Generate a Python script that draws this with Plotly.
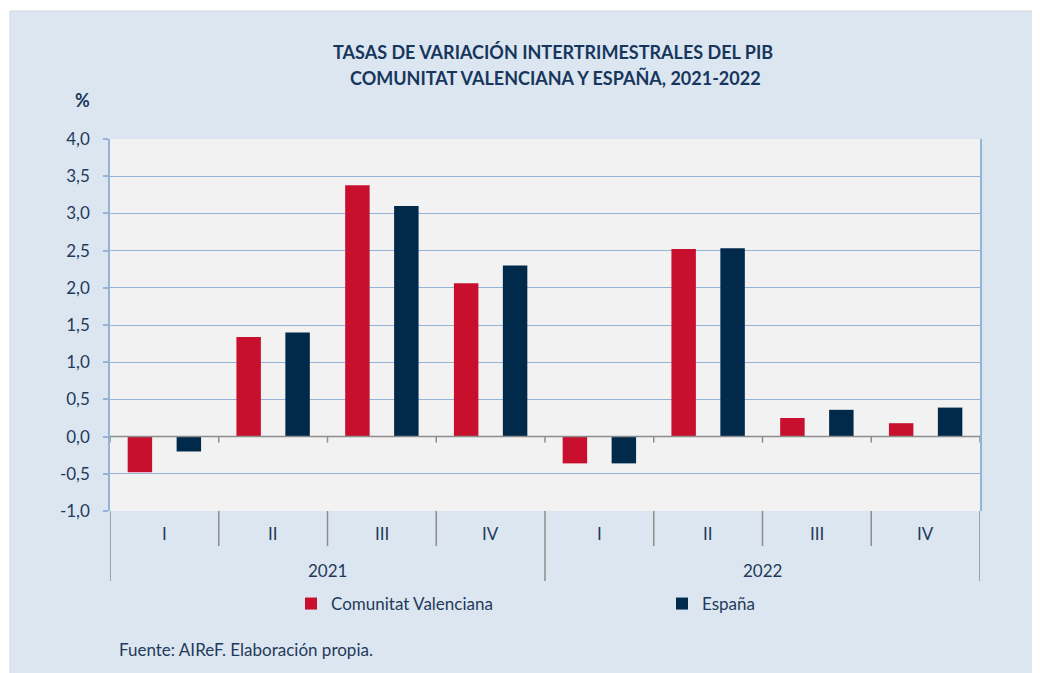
import plotly.graph_objects as go

# ---- data ----
quarters = ["I", "II", "III", "IV", "I", "II", "III", "IV"]
years = ["2021", "2022"]
quarters_per_year = 4
cv_values = [-0.48, 1.34, 3.38, 2.06, -0.36, 2.52, 0.25, 0.18]
es_values = [-0.20, 1.40, 3.10, 2.30, -0.36, 2.53, 0.36, 0.39]
series_names = ["Comunitat Valenciana", "España"]
y_ticks = [-1.0, -0.5, 0.0, 0.5, 1.0, 1.5, 2.0, 2.5, 3.0, 3.5, 4.0]
y_tick_labels = ["-1,0", "-0,5", "0,0", "0,5", "1,0", "1,5", "2,0", "2,5", "3,0", "3,5", "4,0"]

# ---- style ----
OFF = 8  # page body margin
W, H = 1040, 673
L, T = 110 - OFF, 139 - OFF
R = W - (980 - OFF)
B = H - (511 - OFF)
PW, PH = W - L - R, H - T - B
FONT = "Lato"
TXT = "#1f3a5a"
TITLE = "#17365d"
RED = "#c8102e"
NAVY = "#00294a"
GRID = "#95b3d7"
AXGREY = "#8c8c8c"
BG = "#dce6f1"

def px_x(sx):  # screen pixel -> paper x
    return (sx - OFF - L) / PW

def px_y(sy):  # screen pixel -> paper y
    return (H - B - (sy - OFF)) / PH

xs = list(range(len(quarters)))
ymin, ymax = y_ticks[0], y_ticks[-1]
zero_paper = (0 - ymin) / (ymax - ymin)

fig = go.Figure()
fig.add_trace(go.Bar(x=xs, y=cv_values, name=series_names[0], marker_color=RED,
                     marker_line_width=0))
fig.add_trace(go.Bar(x=xs, y=es_values, name=series_names[1], marker_color=NAVY,
                     marker_line_width=0))

shapes = []
# white margins outside the chart box
shapes.append(dict(type="rect", xref="paper", yref="paper", x0=px_x(-20), x1=px_x(10),
                   y0=px_y(H + 30), y1=px_y(-20), fillcolor="white", line_width=0, layer="above"))
shapes.append(dict(type="rect", xref="paper", yref="paper", x0=px_x(-20), x1=px_x(W + 30),
                   y0=px_y(11), y1=px_y(-20), fillcolor="white", line_width=0, layer="above"))
shapes.append(dict(type="line", xref="paper", yref="paper", x0=px_x(10), x1=px_x(W + 30),
                   y0=px_y(11), y1=px_y(11), line=dict(color="#d0d6de", width=1), layer="above"))
shapes.append(dict(type="line", xref="paper", yref="paper", x0=px_x(10), x1=px_x(10),
                   y0=px_y(11), y1=px_y(H + 30), line=dict(color="#d0d6de", width=1), layer="above"))

# zero axis line
shapes.append(dict(type="line", xref="paper", yref="y", x0=0, x1=1, y0=0, y1=0,
                   line=dict(color=AXGREY, width=1.5), layer="above"))
# category boundaries: small ticks at zero, dividers below the plot
n = len(quarters)
for i in range(n + 1):
    xb = i - 0.5
    shapes.append(dict(type="line", xref="x", yref="paper", x0=xb, x1=xb,
                       y0=zero_paper, y1=zero_paper - 6 / PH,
                       line=dict(color=AXGREY, width=1.5), layer="above"))
    depth = 70 if i % quarters_per_year == 0 else 35
    shapes.append(dict(type="line", xref="x", yref="paper", x0=xb, x1=xb,
                       y0=0, y1=-depth / PH,
                       line=dict(color=AXGREY, width=1.5), layer="above"))

annotations = []
for i, q in enumerate(quarters):
    annotations.append(dict(x=i, y=px_y(533), xref="x", yref="paper", text=q,
                            xanchor="center", yanchor="middle", showarrow=False,
                            font=dict(family=FONT, size=17, color=TXT)))
for j, yr in enumerate(years):
    cx = j * quarters_per_year + (quarters_per_year - 1) / 2
    annotations.append(dict(x=cx, y=px_y(570), xref="x", yref="paper", text=yr,
                            xanchor="center", yanchor="middle", showarrow=False,
                            font=dict(family=FONT, size=17, color=TXT)))

annotations.append(dict(x=px_x(553), y=px_y(52), xref="paper", yref="paper",
                        text="<b>TASAS DE VARIACIÓN INTERTRIMESTRALES DEL PIB</b>",
                        xanchor="center", yanchor="middle", showarrow=False,
                        font=dict(family=FONT, size=18, color=TITLE)))
annotations.append(dict(x=px_x(555), y=px_y(78), xref="paper", yref="paper",
                        text="<b>COMUNITAT VALENCIANA Y ESPAÑA, 2021-2022</b>",
                        xanchor="center", yanchor="middle", showarrow=False,
                        font=dict(family=FONT, size=18, color=TITLE)))
annotations.append(dict(x=px_x(82), y=px_y(100), xref="paper", yref="paper",
                        text="<b>%</b>", xanchor="center", yanchor="middle", showarrow=False,
                        font=dict(family=FONT, size=18, color=TITLE)))
annotations.append(dict(x=px_x(117), y=px_y(649), xref="paper", yref="paper",
                        text="Fuente: AIReF. Elaboración propia.",
                        xanchor="left", yanchor="middle", showarrow=False,
                        font=dict(family=FONT, size=17, color=TXT)))

fig.update_layout(
    width=W, height=H,
    margin=dict(l=L, r=R, t=T, b=B, pad=0, autoexpand=False),
    paper_bgcolor=BG, plot_bgcolor="#f2f2f2",
    barmode="group", bargap=0.1, bargroupgap=0.5,
    separators=",.",
    font=dict(family=FONT, size=17, color=TXT),
    showlegend=True,
    legend=dict(orientation="h", x=px_x(291), y=px_y(604), xanchor="left", yanchor="middle",
                entrywidth=326, entrywidthmode="pixels", itemwidth=30,
                font=dict(family=FONT, size=17, color=TXT), bgcolor="rgba(0,0,0,0)"),
    xaxis=dict(range=[-0.5, n - 0.5], showticklabels=False, showgrid=False,
               zeroline=False, showline=False, ticks="", fixedrange=True),
    yaxis=dict(range=[ymin, ymax], tickmode="array", tickvals=y_ticks, ticktext=y_tick_labels,
               showgrid=True, gridcolor=GRID, gridwidth=1, zeroline=False,
               showline=True, linecolor=GRID, linewidth=1.5, mirror=True,
               ticks="outside", ticklen=5, tickcolor=GRID, tickwidth=1.5,
               ticklabelstandoff=10, tickfont=dict(family=FONT, size=17, color=TXT)),
    shapes=shapes, annotations=annotations,
)

fig.write_html("out.html")
